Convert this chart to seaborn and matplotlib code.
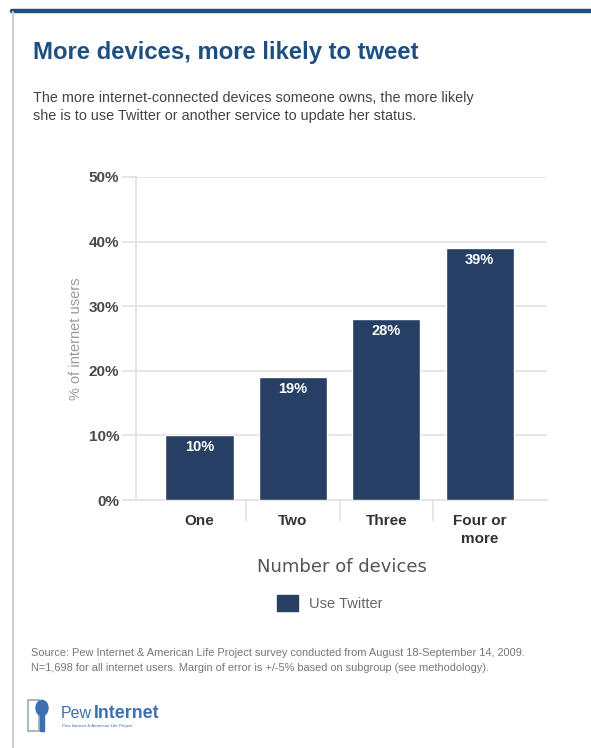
import matplotlib
matplotlib.use("Agg")
import matplotlib.pyplot as plt
from matplotlib.patches import Rectangle, Circle
from matplotlib.lines import Line2D
import seaborn as sns
import pandas as pd

# Data
categories = ["One", "Two", "Three", "Four or\nmore"]
twitter_share = [10, 19, 28, 39]
y_ticks = [0, 10, 20, 30, 40, 50]
y_tick_labels = ["0%", "10%", "20%", "30%", "40%", "50%"]
series_name = "Use Twitter"

BAR = "#263f63"
TITLE = "#1f4f80"
GRID = "#e2e2e2"

sns.set_theme(style="white")
plt.rcParams["font.family"] = ["Liberation Sans", "DejaVu Sans"]

W, H = 591, 748
fig = plt.figure(figsize=(W / 100, H / 100), dpi=100)
fig.patch.set_facecolor("white")

def fx(px):
    return px / W

def fy(py):
    return 1 - py / H

# Frame: dark rule across the top, thin grey rule down the left side
fig.add_artist(Line2D([fx(12), fx(591)], [fy(10.5), fy(10.5)], color=TITLE, lw=3.2,
                      transform=fig.transFigure))
fig.add_artist(Line2D([fx(13), fx(13)], [fy(12), fy(748)], color="#d0d0d0", lw=1.5,
                      transform=fig.transFigure))

# Headline and dek
fig.text(fx(33), fy(52), "More devices, more likely to tweet", fontsize=17.2,
         fontweight="bold", color=TITLE, va="center", ha="left")
fig.text(fx(33), fy(98), "The more internet-connected devices someone owns, the more likely",
         fontsize=10.35, color="#444444", va="center", ha="left")
fig.text(fx(33), fy(116), "she is to use Twitter or another service to update her status.",
         fontsize=10.35, color="#444444", va="center", ha="left")

# Plot area
ax = fig.add_axes([fx(136), fy(500), fx(547) - fx(136), fy(177) - fy(500)])
df = pd.DataFrame({"devices": categories, "share": twitter_share})
sns.barplot(data=df, x="devices", y="share", color=BAR, saturation=1, width=0.73,
            ax=ax, zorder=3)

ax.set_ylim(0, 50)
ax.set_xlim(-0.68, 3.72)
ax.set_yticks(y_ticks)
ax.set_yticklabels(y_tick_labels, fontsize=11, fontweight="bold", color="#4a4a4a")
ax.yaxis.grid(True, color=GRID, lw=1.2, zorder=0)
ax.set_axisbelow(True)
ax.tick_params(axis="y", length=10, width=1.2, color=GRID, pad=2, left=True)

ax.set_xticks(range(len(categories)))
ax.set_xticklabels(categories, fontsize=11, fontweight="bold", color="#333333",
                   linespacing=1.35, va="top")
ax.tick_params(axis="x", length=0, pad=10)
ax.set_xticks([0.5, 1.5, 2.5], minor=True)
ax.tick_params(axis="x", which="minor", length=15, width=1.2, color=GRID, bottom=True)

for side in ["top", "right"]:
    ax.spines[side].set_visible(False)
for side in ["left", "bottom"]:
    ax.spines[side].set_color(GRID)
    ax.spines[side].set_linewidth(1.2)

ax.set_xlabel("Number of devices", fontsize=13, color="#555555",
              family=["DejaVu Sans"], labelpad=9)
ax.set_ylabel("% of internet users", fontsize=10.5, color="#9a9a9a", labelpad=4)

# Value labels inside the top of each bar
for i, v in enumerate(twitter_share):
    ax.text(i, v - 1.8, f"{v}%", ha="center", va="center", color="white",
            fontsize=10.5, fontweight="bold", zorder=4)

# Legend
ax.legend(handles=[Rectangle((0, 0), 1, 1, color=BAR)], labels=[series_name],
          loc="center", bbox_to_anchor=(fx(330), fy(603)),
          bbox_transform=fig.transFigure, frameon=False, fontsize=10.5,
          handlelength=1.4, handleheight=1.4, handletextpad=0.8,
          labelcolor="#666666")

# Source note
fig.text(fx(31), fy(653),
         "Source: Pew Internet & American Life Project survey conducted from August 18-September 14, 2009.",
         fontsize=7.9, color="#777777", va="center", ha="left")
fig.text(fx(31), fy(668),
         "N=1,698 for all internet users. Margin of error is +/-5% based on subgroup (see methodology).",
         fontsize=7.9, color="#777777", va="center", ha="left")

# Pew Internet mark
logo_blue = "#3b6fb0"
fig.add_artist(Rectangle((fx(28), fy(731)), fx(11), fy(700) - fy(731),
                         fill=False, ec="#9aa9bd", lw=1.2, transform=fig.transFigure))
fig.add_artist(Circle((fx(42), fy(708)), 6 / W, color=logo_blue, transform=fig.transFigure))
fig.add_artist(Rectangle((fx(39.5), fy(731)), fx(5), fy(712) - fy(731),
                         color=logo_blue, transform=fig.transFigure))
fig.text(fx(61), fy(713), "Pew", fontsize=11.5, color=logo_blue, va="center", ha="left")
fig.text(fx(94), fy(713), "Internet", fontsize=12.8, color=logo_blue, va="center",
         ha="left", fontweight="bold")
fig.text(fx(62), fy(726), "Pew Internet & American Life Project", fontsize=3.2,
         color=logo_blue, va="center", ha="left")

fig.savefig("out.png", dpi=100, facecolor="white")
